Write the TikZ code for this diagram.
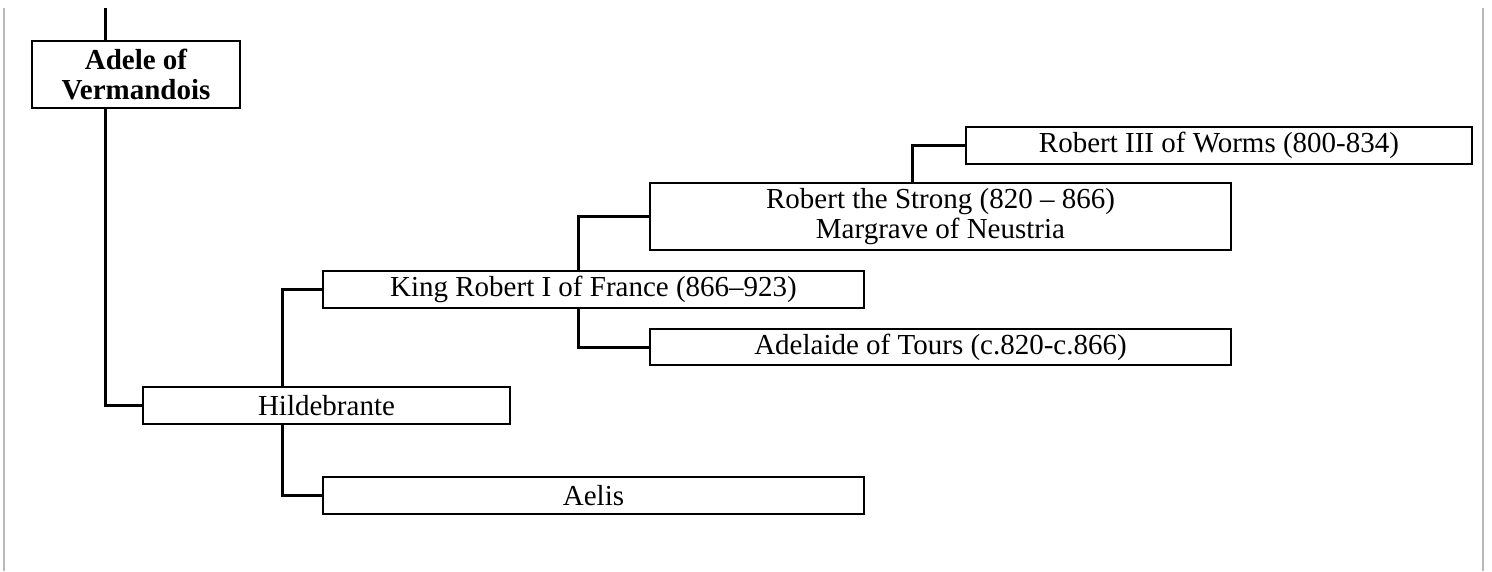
\documentclass[tikz,border=0pt]{standalone}
\usepackage{fontspec}
\setmainfont{Liberation Serif}
\begin{document}
\begin{tikzpicture}[x=1pt,y=-1pt,
  person/.style={draw=black, line width=1.8pt, fill=white, inner sep=0pt, align=center,
    font=\fontsize{29}{29.5}\selectfont},
  link/.style={draw=black, line width=3pt},
  edge/.style={draw=black!28, line width=2pt}]
\useasboundingbox (0,0) rectangle (1492,571);
% page borders
\coordinate (lt) at (4,8); \coordinate (lb) at (4,571);
\coordinate (rt) at (1483,8); \coordinate (rb) at (1483,571);
\draw[edge] (lt) -- (lb);
\draw[edge] (rt) -- (rb);
% nodes
\node[person, minimum width=208, minimum height=67, font=\fontsize{29}{29.5}\selectfont\bfseries] (adele) at (136,74.5) {Adele of\\Vermandois};
\node[person, minimum width=367, minimum height=37] (hild) at (326.5,405.5) {Hildebrante};
\node[person, minimum width=541, minimum height=37] (king) at (593.5,289.5) {King Robert I of France (866–923)};
\node[person, minimum width=541, minimum height=37] (aelis) at (593.5,495.5) {Aelis};
\node[person, minimum width=581, minimum height=67] (strong) at (940.5,216.5) {Robert the Strong (820 – 866)\\Margrave of Neustria};
\node[person, minimum width=581, minimum height=36] (adelaide) at (940.5,347) {Adelaide of Tours (c.820-c.866)};
\node[person, minimum width=506, minimum height=37] (worms) at (1219,145.5) {Robert III of Worms (800-834)};
% connector coordinates
\coordinate (top) at (105,8);
\coordinate (hx) at (282,0);
\coordinate (kx) at (578,0);
\coordinate (sx) at (912,0);
% connectors
\draw[link] (top) -- (top |- adele.north);
\draw[link] (top |- adele.south) |- (hild.west);
\draw[link] (king.west) -| (hx |- hild.north);
\draw[link] (hx |- hild.south) |- (aelis.west);
\draw[link] (strong.west) -| (kx |- king.north);
\draw[link] (kx |- king.south) |- (adelaide.west);
\draw[link] (worms.west) -| (sx |- strong.north);
\end{tikzpicture}
\end{document}
